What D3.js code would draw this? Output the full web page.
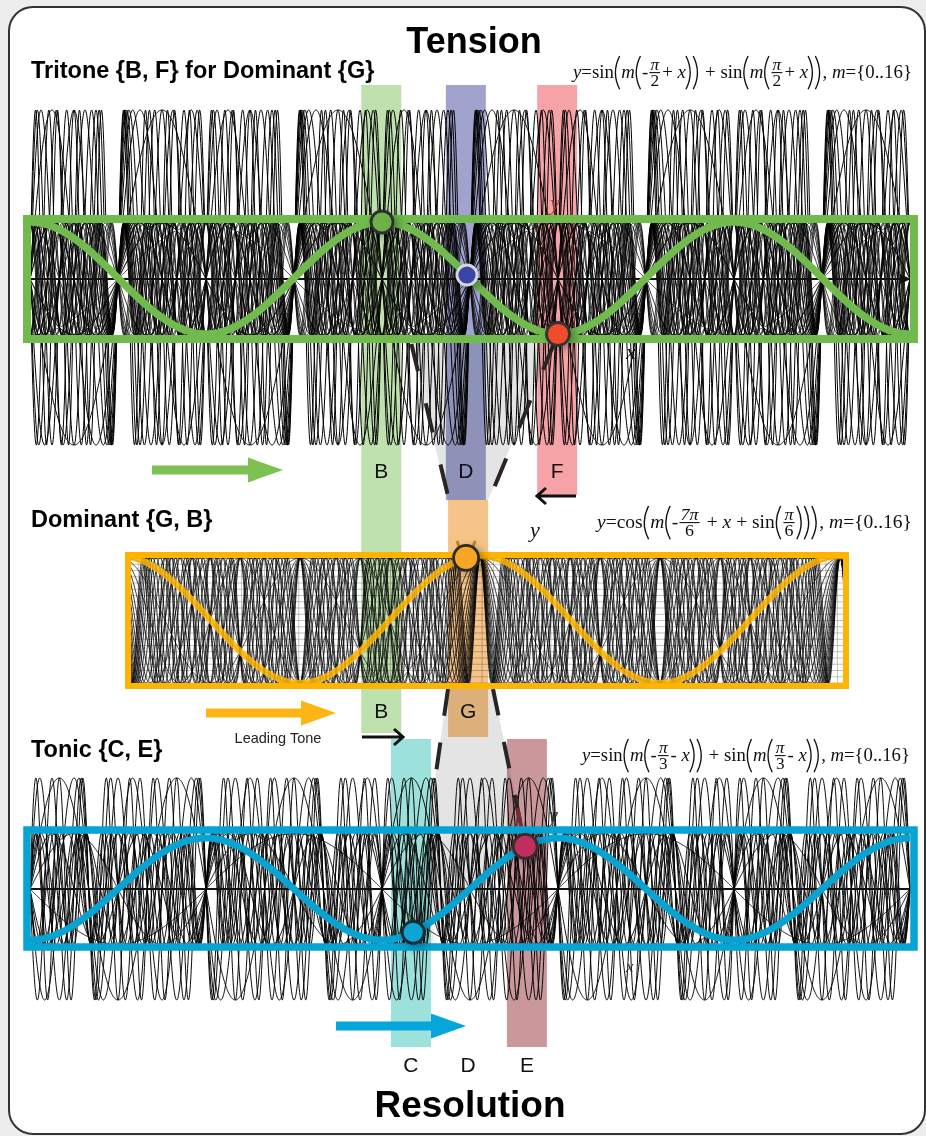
<!DOCTYPE html>
<html>
<head>
<meta charset="utf-8">
<script src="https://cdn.jsdelivr.net/npm/d3@7"></script>
<style>
  body { margin: 0; background: #ededed; }
  svg { display: block; }
  .sans { font-family: "Liberation Sans", Arial, sans-serif; }
  .serif { font-family: "Liberation Serif", "Times New Roman", serif; }
</style>
</head>
<body>
<div id="chart"></div>
<script>
// ---- data ----
var harmonics = [0, 1, 2, 3, 4, 5, 6, 7, 8, 9, 10, 11, 12, 13, 14, 15, 16];   // m={0..16}
var tritonePhases = [-Math.PI / 2, Math.PI / 2];     // sin(m(phi + x))
var tonicPhases = [-Math.PI / 3, Math.PI / 3];       // sin(m(phi - x))
var dominantShift = -7 * Math.PI / 6 + Math.sin(Math.PI / 6);

var tritoneDomain = [0, 5 * Math.PI];
var dominantDomain = [-2.98, 9.55];
var tonicDomain = [0, 5 * Math.PI];

var panelTitles = ["Tritone {B, F} for Dominant {G}", "Dominant {G, B}", "Tonic {C, E}"];
var headings = ["Tension", "Resolution"];

// note bands, x in the tritone / tonic x units
var bandNotes = ["B", "D", "F", "G", "C", "E"];
var bandX = [6.27, 7.78, 9.41, 7.82, 6.80, 8.87];

// marked points on the highlighted waves
var tritoneMarks = [{ note: "B", x: 2 * Math.PI }, { note: "D", x: 7.80 }, { note: "F", x: 3 * Math.PI }];
var dominantMarks = [{ note: "G", x: 2.92 }];
var tonicMarks = [{ note: "C", x: 6.84 }, { note: "E", x: 8.84 }];

var bottomNotes = ["C", "D", "E"];
var bottomNoteX = [6.80, 7.82, 8.87];

// ---- styles ----
var bandColor = { B: "#bfe1ae", D: "#a0a3ce", F: "#f6a3a7", G: "#f6c489", C: "#9ce1dc", E: "#ca979b" };
var markColor = { B: "#6cb24a", D: "#3b45a6", F: "#f04b2b", G: "#f6a623", C: "#0ca3d3", E: "#be2f5f" };
var markStroke = { B: "#2e2e2e", D: "#d6d6de", F: "#333", G: "#2b2b2b", C: "#1b2a33", E: "#3a2a2a" };
var markR = { B: 11, D: 10, F: 11.5, G: 12.5, C: 11, E: 12 };
var green = "#71ba4d", orange = "#ffb400", blue = "#06a3d3";

var W = 926, H = 1136;
var svg = d3.select("#chart").append("svg").attr("width", W).attr("height", H);
var defs = svg.append("defs");
defs.append("filter").attr("id", "shadow").attr("x", "-80%").attr("y", "-80%").attr("width", "260%").attr("height", "260%")
  .append("feDropShadow").attr("dx", 4).attr("dy", 3).attr("stdDeviation", 5)
  .attr("flood-color", "#000").attr("flood-opacity", 0.35);

function clip(id, x, y, w, h) {
  defs.append("clipPath").attr("id", id).append("rect").attr("x", x).attr("y", y).attr("width", w).attr("height", h);
}

// outer card
svg.append("rect").attr("x", 9).attr("y", 7).attr("width", 916).attr("height", 1127).attr("rx", 24)
  .attr("fill", "#fff").attr("stroke", "#333").attr("stroke-width", 2);

// scales
var xT = d3.scaleLinear().domain(tritoneDomain).range([30, 910]);
var yT = d3.scaleLinear().domain([-2, 2]).range([445, 110]);
var yTin = d3.scaleLinear().domain([-1, 1]).range([335, 223]);
var yThi = d3.scaleLinear().domain([-1, 1]).range([334, 222]);

var xD = d3.scaleLinear().domain(dominantDomain).range([128, 846]);
var yD = d3.scaleLinear().domain([-1, 1]).range([683, 558]);
var yDhi = d3.scaleLinear().domain([-1, 1]).range([683, 556]);

var xC = d3.scaleLinear().domain(tonicDomain).range([30, 910]);
var yC = d3.scaleLinear().domain([-2, 2]).range([1000, 778]);
var yChi = d3.scaleLinear().domain([-1, 1]).range([940, 838]);

function sample(domain, n) {
  var a = [];
  for (var i = 0; i <= n; i++) a.push(domain[0] + (domain[1] - domain[0]) * i / n);
  return a;
}
var xsT = sample(tritoneDomain, 2200);
var xsD = sample(dominantDomain, 2200);
var xsC = sample(tonicDomain, 2200);

function tritoneWave(m, x) { return Math.sin(m * (tritonePhases[0] + x)) + Math.sin(m * (tritonePhases[1] + x)); }
function tonicWave(m, x) { return Math.sin(m * (tonicPhases[0] - x)) + Math.sin(m * (tonicPhases[1] - x)); }
function dominantWave(m, x) { return Math.cos(m * (x + dominantShift)); }
function tritoneHi(x) { return Math.cos(x); }
function tonicHi(x) { return -Math.cos(x); }

function curves(g, xs, fn, xScale, yScale, width) {
  var line = d3.line().x(function(d) { return xScale(d[0]); }).y(function(d) { return yScale(d[1]); });
  g.selectAll("path.c").data(harmonics).enter().append("path")
    .attr("class", "c")
    .attr("fill", "none").attr("stroke", "#000").attr("stroke-width", width)
    .attr("d", function(m) { return line(xs.map(function(x) { return [x, fn(m, x)]; })); });
}

// ---- panel 1 outer waves ----
var p1 = svg.append("g");
curves(p1, xsT, tritoneWave, xT, yT, 1.0);

// ---- panel 3 waves ----
var p3 = svg.append("g");
curves(p3, xsC, tonicWave, xC, yC, 0.95);
p3.append("line").attr("x1", 31).attr("x2", 910).attr("y1", yC(0)).attr("y2", yC(0))
  .attr("stroke", "#111").attr("stroke-width", 2);

// ---- funnels ----
function markPos(marks, note, xs, fn, ys) {
  var m = marks.filter(function(d) { return d.note == note; })[0];
  return [xs(m.x), ys(fn(m.x))];
}
var pB = markPos(tritoneMarks, "B", xT, tritoneHi, yThi);
var pD = markPos(tritoneMarks, "D", xT, tritoneHi, yThi);
var pF = markPos(tritoneMarks, "F", xT, tritoneHi, yThi);
var pG = [xD(dominantMarks[0].x), yDhi(dominantWave(1, dominantMarks[0].x))];
var pC = markPos(tonicMarks, "C", xC, tonicHi, yChi);
var pE = markPos(tonicMarks, "E", xC, tonicHi, yChi);

var funnel1 = [pB, pF, [488, 500], [448, 500]];
var funnel2 = [[448, 687], [493, 687], pE, pC];
svg.selectAll("polygon.funnel").data([funnel1, funnel2]).enter().append("polygon")
  .attr("class", "funnel")
  .attr("points", function(d) { return d.map(function(p) { return p.join(","); }).join(" "); })
  .attr("fill", "#e4e4e4").style("mix-blend-mode", "multiply");

// ---- panel 1 inner plot ----
var innerT = svg.append("g");
innerT.append("rect").attr("x", 31).attr("y", 223).attr("width", 879).attr("height", 112).attr("fill", "#fff");
clip("clipT", 31, 223, 879, 112);
var innerTc = innerT.append("g").attr("clip-path", "url(#clipT)");
tritonePhases.forEach(function(phi) {
  curves(innerTc.append("g"), xsT, function(m, x) { return Math.sin(m * (phi + x)); }, xT, yTin, 0.8);
});
innerT.append("line").attr("x1", 31).attr("x2", 902).attr("y1", yTin(0)).attr("y2", yTin(0))
  .attr("stroke", "#111").attr("stroke-width", 2);
innerT.append("path").attr("d", "M900," + (yTin(0) - 5) + " L911," + yTin(0) + " L900," + (yTin(0) + 5) + "Z").attr("fill", "#111");

// ---- panel 2 plot ----
var p2 = svg.append("g");
p2.append("rect").attr("x", 131).attr("y", 558).attr("width", 712).attr("height", 125).attr("fill", "#fff");
clip("clipD", 131, 558, 712, 125);
var p2c = p2.append("g").attr("clip-path", "url(#clipD)");
p2c.selectAll("line.h").data(yD.ticks(18)).enter().append("line")
  .attr("x1", 131).attr("x2", 843).attr("y1", yD).attr("y2", yD)
  .attr("stroke", "#999").attr("stroke-width", 0.6);
p2c.selectAll("line.v").data(xD.ticks(60)).enter().append("line")
  .attr("y1", 558).attr("y2", 683).attr("x1", xD).attr("x2", xD)
  .attr("stroke", "#999").attr("stroke-width", 0.6);
curves(p2c, xsD, dominantWave, xD, yD, 0.8);

// ---- note bands ----
var bandLayout = {
  B: [85, 733], D: [85, 500], F: [85, 495], G: [500, 737], C: [739, 1047], E: [739, 1047]
};
var bandW = 40;
svg.selectAll("rect.band").data(bandNotes).enter().append("rect")
  .attr("class", "band")
  .attr("x", function(d, i) { return xT(bandX[i]) - bandW / 2; })
  .attr("y", function(d) { return bandLayout[d][0]; })
  .attr("width", bandW)
  .attr("height", function(d) { return bandLayout[d][1] - bandLayout[d][0]; })
  .attr("fill", function(d) { return bandColor[d]; })
  .style("mix-blend-mode", "multiply");

// dashed funnel edges
function along(a, b, y) { var t = (y - a[1]) / (b[1] - a[1]); return [a[0] + (b[0] - a[0]) * t, y]; }
var dashes = [
  [along(pB, [449, 500], 344), [449, 500]],
  [along(pF, [489, 500], 344), [489, 500]],
  [[448, 689], along([448, 689], pC, 778)],
  [[493, 689], along([493, 689], pE, 828)]
];
svg.selectAll("line.dash").data(dashes).enter().append("line")
  .attr("x1", function(d) { return d[0][0]; }).attr("y1", function(d) { return d[0][1]; })
  .attr("x2", function(d) { return d[1][0]; }).attr("y2", function(d) { return d[1][1]; })
  .attr("stroke", "#2a2424").attr("stroke-width", 4)
  .attr("stroke-dasharray", function(d, i) { return i < 2 ? "30,33" : "27,27"; })
  .attr("stroke-dashoffset", function(d, i) { return i < 2 ? 2 : 0; });
svg.append("line")
  .attr("x1", along([493, 689], pE, 808)[0]).attr("y1", 808).attr("x2", pE[0]).attr("y2", pE[1])
  .attr("stroke", "#7a2a35").attr("stroke-width", 4);
// small marks above the orange G point
svg.selectAll("line.gtick").data([-1, 1]).enter().append("line")
  .attr("x1", function(s) { return pG[0] + s * 9; }).attr("y1", pG[1] - 17)
  .attr("x2", function(s) { return pG[0] + s * 6; }).attr("y2", pG[1] - 8)
  .attr("stroke", "#c9801a").attr("stroke-width", 3);

// ---- frames and highlighted waves ----
function hiLine(xs, fn, xScale, yScale) {
  return d3.line().x(function(x) { return xScale(x); }).y(function(x) { return yScale(fn(x)); })(xs);
}
svg.append("rect").attr("x", 27).attr("y", 219).attr("width", 887).attr("height", 120)
  .attr("fill", "none").attr("stroke", green).attr("stroke-width", 8);
svg.append("path").attr("d", hiLine(xsT.filter(function(x, i) { return i % 4 == 0; }), tritoneHi, xT, yThi))
  .attr("fill", "none").attr("stroke", green).attr("stroke-width", 7.5);

svg.append("rect").attr("x", 128).attr("y", 555).attr("width", 718).attr("height", 131)
  .attr("fill", "none").attr("stroke", orange).attr("stroke-width", 6);
svg.append("path").attr("d", hiLine(xsD.filter(function(x, i) { return i % 4 == 0; }), function(x) { return dominantWave(1, x); }, xD, yDhi))
  .attr("fill", "none").attr("stroke", orange).attr("stroke-width", 6.5).attr("opacity", 0.85);

svg.append("rect").attr("x", 27).attr("y", 830).attr("width", 887).attr("height", 117)
  .attr("fill", "none").attr("stroke", blue).attr("stroke-width", 7.5);
svg.append("path").attr("d", hiLine(xsC.filter(function(x, i) { return i % 4 == 0; }), tonicHi, xC, yChi))
  .attr("fill", "none").attr("stroke", blue).attr("stroke-width", 7);

// ---- marked points ----
var points = [["B", pB], ["D", pD], ["F", pF], ["G", pG], ["C", pC], ["E", pE]];
svg.selectAll("circle.mark").data(points).enter().append("circle")
  .attr("class", "mark")
  .attr("cx", function(d) { return d[1][0]; }).attr("cy", function(d) { return d[1][1]; })
  .attr("r", function(d) { return markR[d[0]]; })
  .attr("fill", function(d) { return markColor[d[0]]; })
  .attr("stroke", function(d) { return markStroke[d[0]]; })
  .attr("stroke-width", 2.8)
  .attr("filter", "url(#shadow)");

// ---- arrows ----
function blockArrow(x0, x1, y, color) {
  var head = 35, hh = 12.5, sh = 4.5, p = d3.path();
  p.moveTo(x0, y - sh); p.lineTo(x1 - head, y - sh); p.lineTo(x1 - head, y - hh); p.lineTo(x1, y);
  p.lineTo(x1 - head, y + hh); p.lineTo(x1 - head, y + sh); p.lineTo(x0, y + sh); p.closePath();
  svg.append("path").attr("d", p.toString()).attr("fill", color);
}
blockArrow(152, 283, 470, "#7cc152");
blockArrow(206, 336, 713, "#fdb515");
blockArrow(336, 466, 1026, "#05a6d9");

function thinArrow(x0, x1, y) {
  var dir = x1 > x0 ? 1 : -1;
  svg.append("path").attr("d", "M" + x0 + "," + y + " H" + x1 + " M" + (x1 - dir * 9) + "," + (y - 8) + " L" + x1 + "," + y + " L" + (x1 - dir * 9) + "," + (y + 8))
    .attr("fill", "none").attr("stroke", "#111").attr("stroke-width", 3).attr("stroke-linejoin", "miter");
}
thinArrow(576, 537, 496);
thinArrow(362, 403, 737);

// ---- text ----
svg.append("text").attr("class", "sans").attr("x", 474).attr("y", 53).attr("text-anchor", "middle")
  .attr("font-size", 36).attr("font-weight", "bold").text(headings[0]);
svg.append("text").attr("class", "sans").attr("x", 470).attr("y", 1117).attr("text-anchor", "middle")
  .attr("font-size", 37).attr("font-weight", "bold").text(headings[1]);

var titleY = [78, 527, 757];
svg.selectAll("text.title").data(panelTitles).enter().append("text")
  .attr("class", "sans title").attr("x", 31).attr("y", function(d, i) { return titleY[i]; })
  .attr("font-size", 23.5).attr("font-weight", "bold").text(function(d) { return d; });

var labelY = { B: [478, 718], D: [478], F: [478], G: [718] };
var labels = [];
bandNotes.forEach(function(n, i) {
  (labelY[n] || []).forEach(function(y) { labels.push({ n: n, x: xT(bandX[i]), y: y }); });
});
bottomNotes.forEach(function(n, i) { labels.push({ n: n, x: xC(bottomNoteX[i]), y: 1072 }); });
svg.selectAll("text.note").data(labels).enter().append("text")
  .attr("class", "sans note").attr("x", function(d) { return d.x; }).attr("y", function(d) { return d.y; })
  .attr("text-anchor", "middle").attr("font-size", 21).attr("fill", "#111").text(function(d) { return d.n; });

svg.append("text").attr("class", "sans").attr("x", 278).attr("y", 743).attr("text-anchor", "middle")
  .attr("font-size", 14.5).attr("fill", "#222").text("Leading Tone");

// axis letters
var axisLetters = [
  { s: "y", x: 550, y: 210, fs: 22, c: "#a83a3a" }, { s: "x", x: 626, y: 359, fs: 22, c: "#111" },
  { s: "y", x: 530, y: 537, fs: 22, c: "#111" }, { s: "x", x: 621, y: 669, fs: 12, c: "#333" },
  { s: "y", x: 549, y: 822, fs: 20, c: "#333" }, { s: "x", x: 626, y: 972, fs: 17, c: "#333" }
];
svg.selectAll("text.ax").data(axisLetters).enter().append("text")
  .attr("class", "serif ax").attr("x", function(d) { return d.x; }).attr("y", function(d) { return d.y; })
  .attr("font-size", function(d) { return d.fs; }).attr("font-style", "italic")
  .attr("fill", function(d) { return d.c; }).text(function(d) { return d.s; });

// ---- formulas ----
function formula(tokens, x0, x1, baseline, fs) {
  var g = svg.append("g").attr("class", "serif").attr("fill", "#111");
  var cx = 0, axis = -fs * 0.3;
  tokens.forEach(function(t) {
    if (t.p) {
      var h = fs * 1.85, w = fs * 0.3, d;
      if (t.p == "(") d = "M" + (cx + w) + "," + (axis - h / 2) + " Q" + (cx - w * 0.5) + "," + axis + " " + (cx + w) + "," + (axis + h / 2);
      else d = "M" + cx + "," + (axis - h / 2) + " Q" + (cx + w * 1.5) + "," + axis + " " + cx + "," + (axis + h / 2);
      g.append("path").attr("d", d).attr("fill", "none").attr("stroke", "#111").attr("stroke-width", 1.3);
      cx += w + 1.5;
    } else if (t.f) {
      var fs2 = fs * 0.92;
      var num = g.append("text").attr("font-size", fs2).attr("font-style", t.i ? "italic" : "normal").attr("text-anchor", "middle").text(t.f[0]);
      var den = g.append("text").attr("font-size", fs2).attr("text-anchor", "middle").text(t.f[1]);
      var w2 = Math.max(num.node().getComputedTextLength(), den.node().getComputedTextLength()) + 4;
      num.attr("x", cx + w2 / 2).attr("y", axis - 3);
      den.attr("x", cx + w2 / 2).attr("y", axis + fs2 * 0.82);
      g.append("line").attr("x1", cx + 1).attr("x2", cx + w2 - 1).attr("y1", axis).attr("y2", axis).attr("stroke", "#111").attr("stroke-width", 1.1);
      cx += w2 + 1;
    } else {
      var tx = g.append("text").attr("x", cx).attr("y", 0).attr("font-size", fs)
        .attr("font-style", t.i ? "italic" : "normal").style("white-space", "pre").text(t.s);
      cx += tx.node().getComputedTextLength();
    }
  });
  g.attr("transform", "translate(" + x0 + "," + baseline + ") scale(" + ((x1 - x0) / cx) + ",1)");
}
var I = true;
formula([{ s: "y", i: I }, { s: "=sin" }, { p: "(" }, { s: "m", i: I }, { p: "(" }, { s: "-" }, { f: ["π", "2"], i: I }, { s: "+ " }, { s: "x", i: I }, { p: ")" }, { p: ")" },
  { s: " + sin" }, { p: "(" }, { s: "m", i: I }, { p: "(" }, { f: ["π", "2"], i: I }, { s: "+ " }, { s: "x", i: I }, { p: ")" }, { p: ")" },
  { s: ", " }, { s: "m", i: I }, { s: "={0..16}" }], 573, 912, 78, 18);
formula([{ s: "y", i: I }, { s: "=cos" }, { p: "(" }, { s: "m", i: I }, { p: "(" }, { s: "-" }, { f: ["7π", "6"], i: I }, { s: " + " }, { s: "x", i: I },
  { s: " + sin" }, { p: "(" }, { f: ["π", "6"], i: I }, { p: ")" }, { p: ")" }, { p: ")" },
  { s: ", " }, { s: "m", i: I }, { s: "={0..16}" }], 597, 912, 528, 18);
formula([{ s: "y", i: I }, { s: "=sin" }, { p: "(" }, { s: "m", i: I }, { p: "(" }, { s: "-" }, { f: ["π", "3"], i: I }, { s: "- " }, { s: "x", i: I }, { p: ")" }, { p: ")" },
  { s: " + sin" }, { p: "(" }, { s: "m", i: I }, { p: "(" }, { f: ["π", "3"], i: I }, { s: "- " }, { s: "x", i: I }, { p: ")" }, { p: ")" },
  { s: ", " }, { s: "m", i: I }, { s: "={0..16}" }], 582, 910, 761, 18);
</script>
</body>
</html>
